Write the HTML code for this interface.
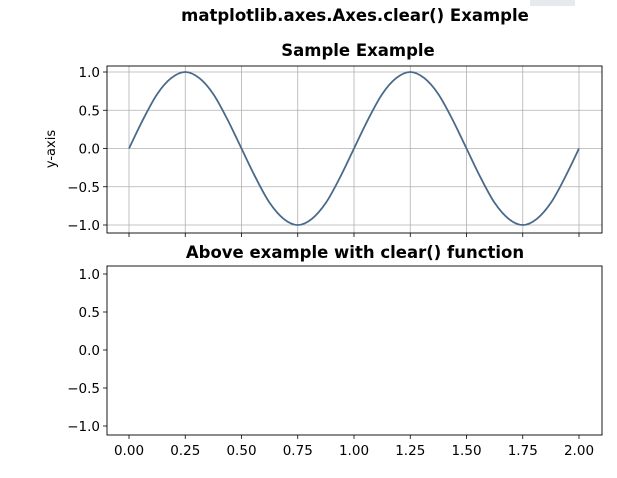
<!DOCTYPE html>
<html><head><meta charset="utf-8"><style>
body{margin:0;background:#fff;}
svg{display:block;font-family:"DejaVu Sans","Liberation Sans",sans-serif;}
</style></head><body>
<svg id="fig" width="617" height="478">
<rect width="617" height="478" fill="#fff"/>
<rect x="530" y="0" width="45" height="6" fill="#e6eaef"/>
<text x="355" y="21" text-anchor="middle" font-size="16.5" font-weight="bold">matplotlib.axes.Axes.clear() Example</text>
<text x="358" y="56" text-anchor="middle" font-size="16.5" font-weight="bold">Sample Example</text>
<text x="355" y="258" text-anchor="middle" font-size="16.5" font-weight="bold">Above example with clear() function</text>
<text transform="translate(55,149) rotate(-90)" text-anchor="middle" font-size="13">y-axis</text>
<g id="top"></g>
<g id="bot"></g>
</svg>
<script>
const xTicks=[0,0.25,0.5,0.75,1,1.25,1.5,1.75,2];
const xTickLabels=["0.00","0.25","0.50","0.75","1.00","1.25","1.50","1.75","2.00"];
const yTicks=[1,0.5,0,-0.5,-1];
const yTickLabels=["1.0","0.5","0.0","\u22120.5","\u22121.0"];
const sineX=[0,0.0625,0.125,0.1875,0.25,0.3125,0.375,0.4375,0.5,0.5625,0.625,0.6875,0.75,0.8125,0.875,0.9375,1,1.0625,1.125,1.1875,1.25,1.3125,1.375,1.4375,1.5,1.5625,1.625,1.6875,1.75,1.8125,1.875,1.9375,2];
const sineY=[0,0.38,0.71,0.92,1,0.92,0.71,0.38,0,-0.38,-0.71,-0.92,-1,-0.92,-0.71,-0.38,0,0.38,0.71,0.92,1,0.92,0.71,0.38,0,-0.38,-0.71,-0.92,-1,-0.92,-0.71,-0.38,0];
const NS="http://www.w3.org/2000/svg";
const L=107,R=602;
const xs=v=>129+(v-0)*(579-129)/2;
function mk(p,t,a){const e=document.createElementNS(NS,t);for(const k in a)e.setAttribute(k,a[k]);p.appendChild(e);return e;}
function axes(g,top,bottom,y1,ym1,grid,showX){
  const ys=v=>ym1+(v+1)*(y1-ym1)/2;
  if(grid){
    xTicks.forEach(v=>{const l=mk(g,'line',{x1:xs(v),x2:xs(v),y1:top,y2:bottom,stroke:'#b0b0b0','stroke-width':0.8});
    
    });
    yTicks.forEach(v=>{const l=mk(g,'line',{x1:L,x2:R,y1:ys(v),y2:ys(v),stroke:'#b0b0b0','stroke-width':0.8});
    
    });
  }
  yTicks.forEach((v,i)=>{mk(g,'line',{x1:L-4,x2:L,y1:ys(v),y2:ys(v),stroke:'#000','stroke-width':0.8});
    const t=mk(g,'text',{x:L-7,y:ys(v)+5,'text-anchor':'end','font-size':13.5});t.textContent=yTickLabels[i];
    
    });
  xTicks.forEach((v,i)=>{mk(g,'line',{x1:xs(v),x2:xs(v),y1:bottom,y2:bottom+4,stroke:'#000','stroke-width':0.8});
    if(showX){const t=mk(g,'text',{x:xs(v),y:bottom+20,'text-anchor':'middle','font-size':13.5});t.textContent=xTickLabels[i];
    
    }});
  mk(g,'rect',{x:L,y:top,width:R-L,height:bottom-top,fill:'none',stroke:'#000','stroke-width':0.9});
  return ys;
}
const gt=document.getElementById('top');
const ysT=axes(gt,66,233,72,225,true,false);
const pts=sineX.map((x,i)=>[xs(x),ysT(sineY[i])]);
let d='M'+pts[0][0].toFixed(1)+','+pts[0][1].toFixed(1);
for(let i=0;i<pts.length-1;i++){
  const p0=pts[Math.max(0,i-1)],p1=pts[i],p2=pts[i+1],p3=pts[Math.min(pts.length-1,i+2)];
  const c1=[p1[0]+(p2[0]-p0[0])/6,p1[1]+(p2[1]-p0[1])/6],c2=[p2[0]-(p3[0]-p1[0])/6,p2[1]-(p3[1]-p1[1])/6];
  d+='C'+c1.map(n=>n.toFixed(1)).join(',')+' '+c2.map(n=>n.toFixed(1)).join(',')+' '+p2.map(n=>n.toFixed(1)).join(',');
}
const p=mk(gt,'path',{d:d,fill:'none',stroke:'#4a6a8a','stroke-width':1.8});


axes(document.getElementById('bot'),266,435,274,426,false,true);
</script>
</body></html>
